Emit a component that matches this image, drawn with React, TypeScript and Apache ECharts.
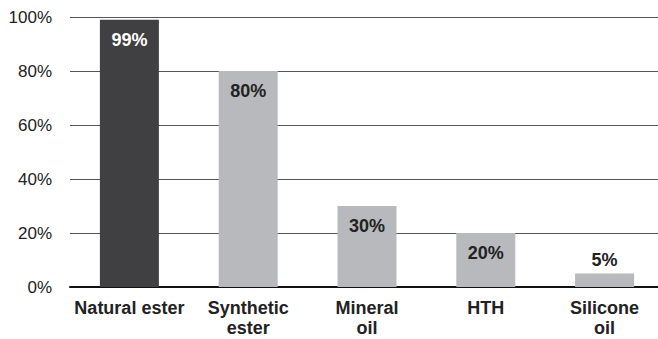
import React, { useEffect, useRef } from "react";
import * as echarts from "echarts";

const categories = ["Natural ester", "Synthetic\nester", "Mineral\noil", "HTH", "Silicone\noil"];
const values = [99, 80, 30, 20, 5];
const yTicks = [0, 20, 40, 60, 80, 100];

export default function App() {
  const ref = useRef<HTMLDivElement>(null);
  useEffect(() => {
    if (!ref.current) return;
    const chart = echarts.init(ref.current, null, { renderer: "svg" });
    const font = "'Liberation Sans', Arial, sans-serif";
    chart.setOption({
      animation: false,
      grid: { left: 70, right: 1, top: 17, bottom: 52 },
      xAxis: {
        type: "category",
        data: categories,
        axisLine: { show: true, lineStyle: { color: "#111", width: 2 } },
        axisTick: { show: false },
        axisLabel: {
          color: "#222",
          fontFamily: font,
          fontWeight: "bold",
          fontSize: 18,
          lineHeight: 20,
          margin: 11,
          interval: 0,
        },
      },
      yAxis: {
        type: "value",
        min: yTicks[0],
        max: yTicks[yTicks.length - 1],
        interval: 20,
        axisLine: { show: false },
        axisTick: { show: false },
        splitLine: { lineStyle: { color: "#555", width: 1 } },
        axisLabel: {
          color: "#222",
          fontFamily: font,
          fontSize: 17,
          margin: 18,
          formatter: (v: number) => v + "%",
        },
      },
      series: [
        {
          type: "bar",
          barWidth: 59,
          data: values.map((v, i) => ({
            value: v,
            itemStyle: { color: i === 0 ? "#404042" : "#b8b9bc" },
            label: {
              show: true,
              position: v < 10 ? "top" : "insideTop",
              distance: v < 10 ? 5 : 11,
              color: i === 0 ? "#ffffff" : "#222",
              fontFamily: font,
              fontWeight: "bold",
              fontSize: 18,
              formatter: "{c}%",
            },
          })),
        },
      ],
    });
    return () => chart.dispose();
  }, []);
  return (
    <div style={{ position: "fixed", left: 0, top: 0, width: 658, height: 339, overflow: "hidden", background: "#fff" }}>
      <div ref={ref} style={{ width: 665, height: 339 }} />
    </div>
  );
}
